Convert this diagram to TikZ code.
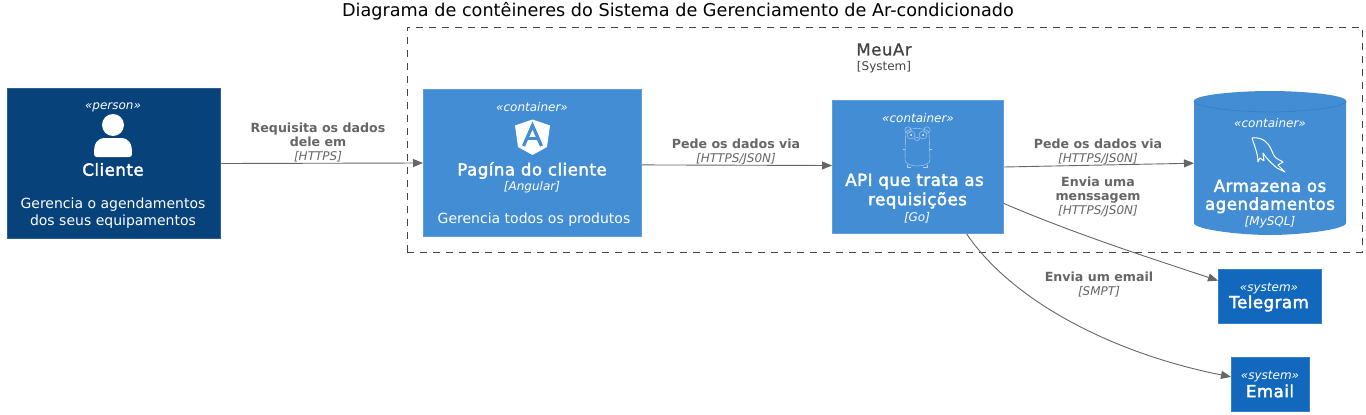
\documentclass[tikz,border=0pt]{standalone}
\usepackage{fontspec}
\setmainfont{DejaVu Sans}
\newfontfamily\namefont[FakeBold=2.4,LetterSpace=3]{DejaVu Sans}
\newfontfamily\bndfont[FakeBold=0.8,LetterSpace=3]{DejaVu Sans}
\usetikzlibrary{arrows.meta}
\definecolor{personc}{HTML}{08427B}
\definecolor{contc}{HTML}{438DD5}
\definecolor{sysc}{HTML}{1168BD}
\definecolor{contb}{HTML}{3C7FC0}
\definecolor{relc}{HTML}{666666}
\definecolor{bndc}{HTML}{444444}
\tikzset{
  x=1pt,y=-1pt,
  box/.style={draw=#1!85!white,fill=#1,line width=1pt,inner sep=0pt,anchor=north west},
  wt/.style={text=white,inner sep=0pt,align=center,yshift=-1.5pt},
  stereo/.style={wt,font=\fontsize{12}{14}\selectfont\itshape},
  nametxt/.style={wt,font=\namefont\fontsize{16.6}{18}\selectfont},
  techtxt/.style={wt,font=\fontsize{12}{14}\selectfont\itshape},
  desctxt/.style={wt,font=\fontsize{14}{17}\selectfont},
  rellabel/.style={text=relc,inner sep=0pt,align=center,yshift=-1pt,font=\fontsize{12.6}{14}\selectfont},
  rel/.style={draw=relc,line width=0.9pt,-{Triangle[length=10pt,width=8pt]}},
  icon/.style={draw=white,line width=0.7pt,line join=round}
}
\newcommand{\tech}[1]{{\fontsize{12}{14}\selectfont\itshape #1}}
\begin{document}
\begin{tikzpicture}
\useasboundingbox (0,0) rectangle (1366,415);
\fill[white] (0,0) rectangle (1366,415);
\node[inner sep=0pt,font=\fontsize{17.65}{20}\selectfont,yshift=-1.5pt] (title) at (678,10) {Diagrama de contêineres do Sistema de Gerenciamento de Ar-condicionado};
\node[draw=bndc,dash pattern=on 7pt off 6pt,line width=0.8pt,inner sep=0pt,minimum width=955pt,minimum height=225pt,anchor=north west] (bnd) at (407,27) {};
\node[inner sep=0pt,text=bndc,yshift=0.5pt,font=\bndfont\fontsize{16.6}{18}\selectfont] (bndname) at (884,50) {MeuAr};
\node[inner sep=0pt,text=bndc,yshift=-2pt,font=\fontsize{12}{14}\selectfont] (bndtype) at (884,65) {[System]};

% boxes
\node[box=personc,minimum width=213pt,minimum height=150pt] (cli) at (7,88) {};
\node[box=contc,minimum width=218pt,minimum height=147pt] (pag) at (423,89) {};
\node[box=contc,minimum width=171pt,minimum height=133pt] (api) at (832,100) {};
\node[inner sep=0pt,minimum width=152pt,minimum height=144pt,anchor=north west] (db) at (1194,91) {};
\path[fill=contc] (1194,101) .. controls (1194,94.5) and (1240,91) .. (1270,91) .. controls (1300,91) and (1346,94.5) .. (1346,101)
  -- (1346,223) .. controls (1346,229.5) and (1300,235) .. (1270,235) .. controls (1240,235) and (1194,229.5) .. (1194,223) -- cycle;
\draw[contb,line width=0.8pt] (1194,101) .. controls (1194,107.5) and (1240,112) .. (1270,112) .. controls (1300,112) and (1346,107.5) .. (1346,101);
\node[box=sysc,minimum width=103pt,minimum height=54pt] (tele) at (1218,269) {};
\node[box=sysc,minimum width=78pt,minimum height=54pt] (mail) at (1231,357) {};

% person
\node[stereo] (s1) at (113,106) {«person»};
\fill[white] (113,125) circle (11);
\fill[white] (94,154) .. controls (94,144) and (96,138) .. (106,138) -- (120,138) .. controls (130,138) and (132,144) .. (132,154) .. controls (132,156) and (131,157) .. (129,157) -- (97,157) .. controls (95,157) and (94,156) .. (94,154) -- cycle;
\node[nametxt] (n1) at (113,168) {Cliente};
\node[desctxt] (d1) at (113,211.5) {Gerencia o agendamentos\\dos seus equipamentos};

% pagina
\node[stereo] (s2) at (532,106) {«container»};
\fill[white] (532.5,119.5) -- (515,125.5) -- (518,147) -- (532.5,155) -- (547,147) -- (550,125.5) -- cycle;
\draw[contc,line width=3.2pt,line join=miter] (523.5,146) -- (532.5,125.5) -- (541.5,146);
\draw[contc,line width=2.6pt] (526.5,138.5) -- (538.5,138.5);
\node[nametxt] (n2) at (532,169) {Pagína do cliente};
\node[techtxt] (t2) at (532,186) {[Angular]};
\node[desctxt] (d2) at (534,218) {Gerencia todos os produtos};

% api
\node[stereo] (s3) at (918,117) {«container»};
\begin{scope}[icon,line width=0.4pt,draw=white!60!contc]
\draw (905.5,133) .. controls (906,127) and (928,127) .. (929,133) -- (930,160) .. controls (930,168) and (905,168) .. (905,160) -- cycle;
\draw (908,130) circle (3.2) (927,130) circle (3.2);
\draw (911,135) circle (4) (923,135) circle (4);
\draw (917,139) ellipse (2.5 and 1.5);
\draw (905,149) -- (903,149) (929.5,149) -- (932,149);
\draw (907,165) -- (907,167.5) -- (911,167.5) (927,165) -- (927,167.5) -- (923,167.5);
\end{scope}
\fill[white] (911,135) circle (1) (923,135) circle (1);
\node[nametxt] (n3) at (914.5,180) {API que trata as};
\node[nametxt] (n3b) at (917.5,199) {requisições};
\node[techtxt] (t3) at (917,216) {[Go]};

% db
\node[stereo] (s4) at (1270,122) {«container»};
\draw[icon,line width=1pt] (1252,138) .. controls (1258,137) and (1264,139) .. (1268,144) .. controls (1272,149) and (1273,156) .. (1276,158) .. controls (1279,160) and (1282,161) .. (1283,162) -- (1278,165) -- (1285,172) -- (1277,168) .. controls (1272,164) and (1266,158) .. (1263,153) -- (1264,161) -- (1260,158) -- (1258,162) .. controls (1258,153) and (1254,145) .. (1252,138);
\node[nametxt] (n4) at (1270,195) {Armazena os\\agendamentos};
\node[techtxt] (t4) at (1270,221) {[MySQL]};

% systems
\node[stereo] (s5) at (1269,287) {«system»};
\node[nametxt] (n5) at (1269,302) {Telegram};
\node[stereo] (s6) at (1270,375) {«system»};
\node[nametxt] (n6) at (1270,389.5) {Email};

% connectors
\draw[rel] (cli.0.5) -- (pag.west);
\draw[rel] (pag.-1) -- (api.179);
\draw[rel] (api.east) -- (db.west);
\draw[rel] (api.-23.7) .. controls (1075,234) and (1150,258) .. (tele.163.8);
\draw[rel] (api.-54.5) .. controls (1015,305) and (1120,355) .. (mail.169.8);

% labels
\node[rellabel] (l1) at (318,142) {\textbf{Requisita os dados}\\\textbf{dele em}\\\tech{[HTTPS]}};
\node[rellabel] (l2) at (736,150.5) {\textbf{Pede os dados via}\\\tech{[HTTPS/JS0N]}};
\node[rellabel] (l3) at (1098,150.5) {\textbf{Pede os dados via}\\\tech{[HTTPS/JS0N]}};
\node[rellabel] (l4) at (1098,195.5) {\textbf{Envia uma}\\\textbf{menssagem}\\\tech{[HTTPS/JS0N]}};
\node[rellabel] (l5) at (1099,284) {\textbf{Envia um email}\\\tech{[SMPT]}};
\end{tikzpicture}
\end{document}
